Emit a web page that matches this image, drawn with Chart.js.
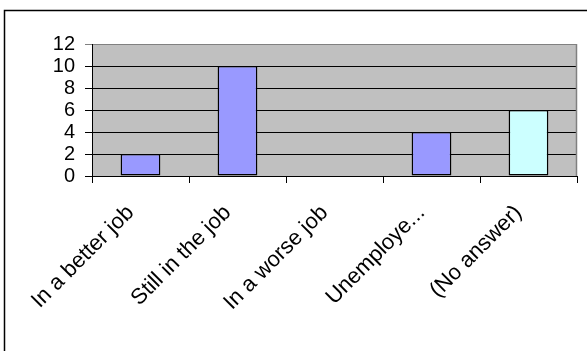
<!DOCTYPE html>
<html>
<head>
<meta charset="utf-8">
<script src="https://cdn.jsdelivr.net/npm/chart.js@4/dist/chart.umd.min.js"></script>
<style>
  html, body { margin: 0; padding: 0; background: #fff; }
  #wrap { width: 587px; height: 351px; position: relative; }
  canvas { display: block; }
</style>
</head>
<body>
<div id="wrap"><canvas id="chart" width="587" height="351"></canvas></div>
<script>
// Survey outcome categories and response counts
const categories = ['In a better job', 'Still in the job', 'In a worse job', 'Unemploye...', '(No answer)'];
const counts = [2, 10, 0, 4, 6];
const barColors = ['#9999FF', '#9999FF', '#9999FF', '#9999FF', '#CCFFFF'];
const yTicks = [0, 2, 4, 6, 8, 10, 12];

const FONT = '"Liberation Sans", Arial, sans-serif';

// Grey plot background plus the outer frame and the plot's right edge
const framePlugin = {
  id: 'frame',
  beforeDraw(chart) {
    const { ctx, chartArea: a } = chart;
    ctx.save();
    ctx.fillStyle = '#fff';
    ctx.fillRect(0, 0, chart.width, chart.height);
    ctx.fillStyle = '#C0C0C0';
    ctx.fillRect(a.left, a.top, a.right - a.left, a.bottom - a.top);
    ctx.restore();
  },
  afterDraw(chart) {
    const { ctx, chartArea: a } = chart;
    ctx.save();
    ctx.strokeStyle = '#808080';
    ctx.lineWidth = 1.5;
    ctx.beginPath();
    ctx.moveTo(Math.round(a.right) - 0.5, a.top);
    ctx.lineTo(Math.round(a.right) - 0.5, a.bottom);
    ctx.stroke();
    ctx.strokeStyle = '#000';
    ctx.lineWidth = 1.5;
    ctx.beginPath();
    ctx.moveTo(4.5, chart.height);
    ctx.lineTo(4.5, 10.5);
    ctx.lineTo(chart.width, 10.5);
    ctx.stroke();
    ctx.restore();
  }
};

new Chart(document.getElementById('chart'), {
  type: 'bar',
  data: {
    labels: categories,
    datasets: [{
      data: counts,
      backgroundColor: barColors,
      borderColor: '#000',
      borderWidth: 1.5,
      borderSkipped: false,
      barPercentage: 0.41,
      categoryPercentage: 1
    }]
  },
  options: {
    responsive: false,
    animation: false,
    devicePixelRatio: 1,
    layout: { padding: { top: 44, left: 0, right: 10, bottom: 0 } },
    plugins: { legend: { display: false }, tooltip: { enabled: false } },
    scales: {
      x: {
        grid: { offset: true, drawOnChartArea: false, drawTicks: true, tickLength: 7, color: '#000', lineWidth: 1 },
        border: { color: '#000', width: 1 },
        ticks: {
          color: '#000',
          font: { family: FONT, size: 22 },
          autoSkip: false,
          minRotation: 45,
          maxRotation: 45,
          padding: 17,
          labelOffset: -10
        },
        afterFit(s) { s.height = 351 - 176; s.paddingLeft = 0; s.paddingRight = 0; }
      },
      y: {
        min: 0,
        max: 12,
        afterBuildTicks(s) { s.ticks = yTicks.map(v => ({ value: v })); },
        grid: {
          color: (c) => (c.tick && c.tick.value === 12 ? '#808080' : '#000'),
          lineWidth: 1,
          tickLength: 7,
          drawTicks: true
        },
        border: { color: '#000', width: 1 },
        ticks: {
          color: '#000',
          font: { family: FONT, size: 20 },
          autoSkip: false,
          padding: 10
        },
        afterFit(s) { s.width = 92; s.paddingTop = 0; s.paddingBottom = 0; }
      }
    }
  },
  plugins: [framePlugin]
});
</script>
</body>
</html>
